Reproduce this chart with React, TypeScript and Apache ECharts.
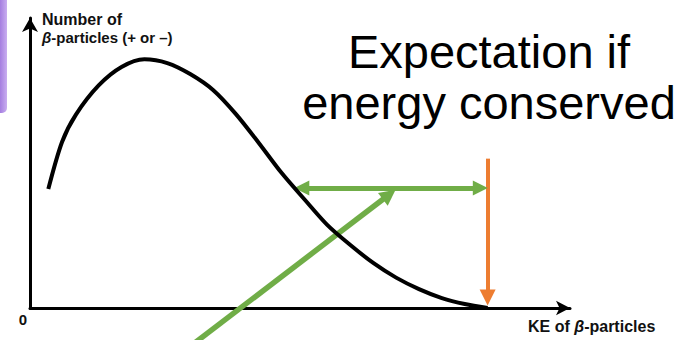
import React, { useEffect, useRef } from "react";
import * as echarts from "echarts";

// KE as a fraction of the maximum (energy-conserving) value
const keValues = [0.04, 0.07, 0.1, 0.15, 0.2, 0.25, 0.3, 0.35, 0.4, 0.45, 0.5, 0.55, 0.6, 0.65, 0.7, 0.75, 0.8, 0.85, 0.9, 0.95, 1.0];
// Relative number of beta particles
const countValues = [0.478, 0.667, 0.776, 0.894, 0.968, 0.999, 0.984, 0.94, 0.876, 0.779, 0.663, 0.542, 0.436, 0.333, 0.253, 0.181, 0.122, 0.076, 0.04, 0.016, 0.0];

const yTitleLines = ["Number of", "{i|β}-particles (+ or –)"];
const xTitle = "KE of {i|β}-particles";
const originLabel = "0";
const noteLines = ["Expectation if", "energy conserved"];

// Arrow endpoints in data units (head centres)
const expectArrow = [[1.0, 0.6], [1.0, 0.042]];
const spreadArrow = [[0.594, 0.482], [0.984, 0.482]];
const pointerArrow = [[0.328, -0.185], [0.785, 0.456]];

export default function App() {
  const ref = useRef<HTMLDivElement>(null);
  useEffect(() => {
    if (!ref.current) return;
    const chart = echarts.init(ref.current, null, { renderer: "svg" });
    const green = "#70AD47";
    const orange = "#ED7D31";
    const font = "'Liberation Sans', Arial, Helvetica, sans-serif";
    const arrow = (coords: number[][], color: string, width: number, both: boolean, size: number) => ({
      type: "lines",
      coordinateSystem: "cartesian2d",
      clip: false,
      silent: true,
      symbol: [both ? "triangle" : "none", "triangle"],
      symbolSize: size,
      lineStyle: { color, width, opacity: 1, curveness: 0 },
      data: [{ coords }],
    });
    chart.setOption({
      animation: false,
      backgroundColor: "#ffffff",
      grid: { left: 30, right: 122, top: 18, bottom: 32, containLabel: false },
      xAxis: {
        type: "value",
        min: 0,
        max: 1.18,
        axisLine: { show: true, symbol: ["none", "arrow"], symbolSize: [11, 14], lineStyle: { color: "#000", width: 3 } },
        axisTick: { show: false },
        axisLabel: { show: false },
        splitLine: { show: false },
      },
      yAxis: {
        type: "value",
        min: 0,
        max: 1.165,
        axisLine: { show: true, symbol: ["none", "arrow"], symbolSize: [12, 14], lineStyle: { color: "#000", width: 3 } },
        axisTick: { show: false },
        axisLabel: { show: false },
        splitLine: { show: false },
      },
      graphic: [
        {
          type: "rect",
          shape: { x: 0, y: 0, width: 7, height: 113, r: [0, 0, 5, 0] },
          style: {
            fill: new echarts.graphic.LinearGradient(0, 0, 1, 0, [
              { offset: 0, color: "#a57ee0" },
              { offset: 1, color: "#c9aef0" },
            ]),
          },
        },
        {
          type: "text",
          x: 42,
          y: 11,
          style: { text: yTitleLines[0], font: `bold 16px ${font}`, fill: "#111" },
        },
        {
          type: "text",
          x: 42,
          y: 30,
          style: {
            text: yTitleLines[1],
            font: `bold 15px ${font}`,
            fill: "#111",
            rich: { i: { fontStyle: "italic", fontWeight: "bold", fontSize: 15, fontFamily: font } },
          },
        },
        {
          type: "text",
          x: 528,
          y: 318,
          style: {
            text: xTitle,
            font: `bold 16px ${font}`,
            fill: "#111",
            rich: { i: { fontStyle: "italic", fontWeight: "bold", fontSize: 16, fontFamily: font } },
          },
        },
        {
          type: "text",
          x: 23,
          y: 319,
          style: { text: originLabel, font: `bold 15px ${font}`, fill: "#111", align: "center", verticalAlign: "middle" },
        },
        {
          type: "text",
          x: 489,
          y: 51,
          style: { text: noteLines[0], font: `47px ${font}`, fill: "#000", align: "center", verticalAlign: "middle" },
        },
        {
          type: "text",
          x: 489,
          y: 102,
          style: { text: noteLines[1], font: `47px ${font}`, fill: "#000", align: "center", verticalAlign: "middle" },
        },
      ],
      series: [
        {
          type: "line",
          data: keValues.map((k, i) => [k, countValues[i]]),
          smooth: 0.3,
          showSymbol: false,
          lineStyle: { color: "#000", width: 4 },
          clip: false,
        },
        arrow(expectArrow, orange, 4, false, 16),
        arrow(spreadArrow, green, 5, true, 15),
        arrow(pointerArrow, green, 5.5, false, 16),
      ],
    });
    return () => chart.dispose();
  }, []);
  return (
    <div
      ref={ref}
      style={{ position: "fixed", left: 0, top: 0, width: 692, height: 340, background: "#fff" }}
    />
  );
}
